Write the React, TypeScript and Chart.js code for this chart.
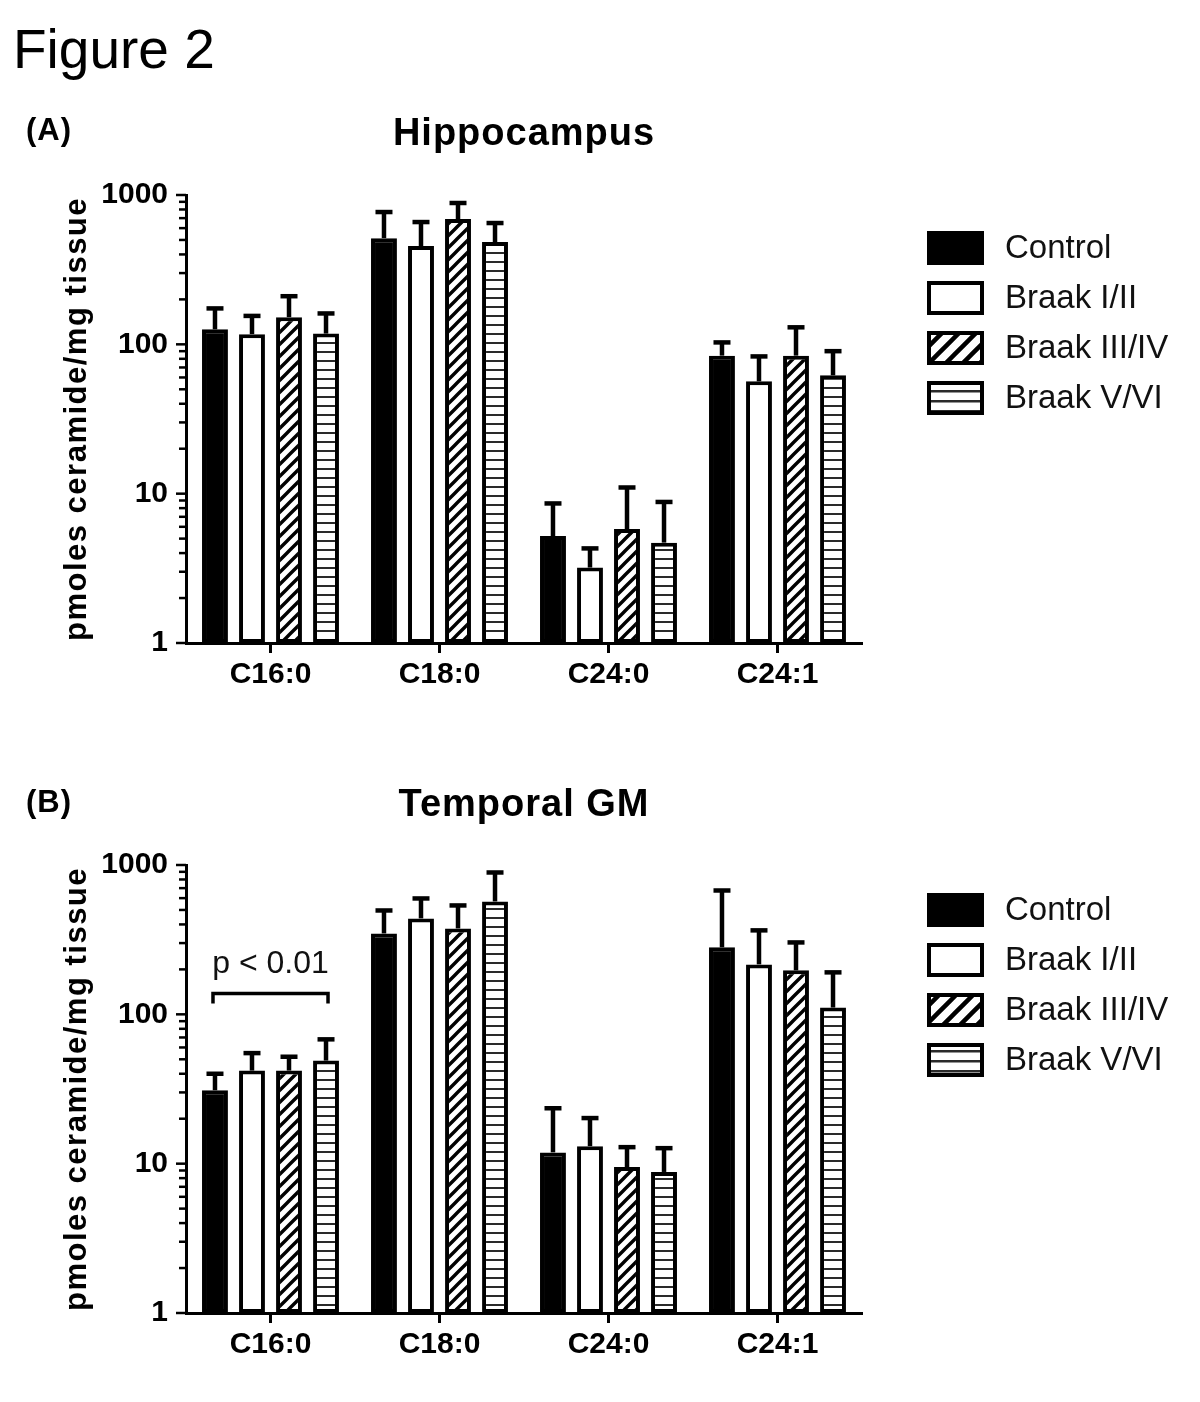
import React, { useEffect, useRef } from "react";
import { Chart, registerables } from "chart.js";

Chart.register(...registerables);

const FONT = "'Liberation Sans', Arial, Helvetica, sans-serif";

const categories = ["C16:0", "C18:0", "C24:0", "C24:1"];
const groups = ["Control", "Braak I/II", "Braak III/IV", "Braak V/VI"];
const yTickValues = [1, 10, 100, 1000];
const yMin = 1;
const yMax = 1000;

// (A) Hippocampus — means
const hipControl = [126, 514, 5.2, 84];
const hipBraak12 = [117, 455, 3.2, 56.5];
const hipBraak34 = [152, 690, 5.8, 84];
const hipBraak56 = [118, 484, 4.7, 62];
// (A) Hippocampus — top of error bars
const hipControlErr = [174, 769, 8.6, 103];
const hipBraak12Err = [155, 659, 4.3, 83];
const hipBraak34Err = [210, 884, 11, 130];
const hipBraak56Err = [161, 649, 8.8, 90];

// (B) Temporal GM — means
const tgmControl = [31, 348, 11.9, 281];
const tgmBraak12 = [42, 439, 13.1, 216];
const tgmBraak34 = [42, 376, 9.5, 197];
const tgmBraak56 = [49, 570, 8.8, 111];
// (B) Temporal GM — top of error bars
const tgmControlErr = [40, 496, 23.5, 675];
const tgmBraak12Err = [55, 597, 20.2, 365];
const tgmBraak34Err = [52, 536, 12.9, 303];
const tgmBraak56Err = [68, 891, 12.7, 191];

// significance bracket in (B)
const bracketLabel = "p < 0.01";
const bracketValue = 138;

type PanelCfg = {
  means: number[][];
  errs: number[][];
  figureTitle?: string;
  panelLabel: string;
  panelLabelY: number;
  title: string;
  titleY: number;
  legendY: number[];
  padTop: number;
  padBottom: number;
  bracket?: boolean;
};

function makeHatch(size: number, lw: number): CanvasPattern | string {
  const c = document.createElement("canvas");
  c.width = size;
  c.height = size;
  const g = c.getContext("2d");
  if (!g) return "#888";
  g.fillStyle = "#fff";
  g.fillRect(0, 0, size, size);
  g.strokeStyle = "#000";
  g.lineWidth = lw;
  g.lineCap = "square";
  g.beginPath();
  g.moveTo(0, size);
  g.lineTo(size, 0);
  g.moveTo(-size / 2, size / 2);
  g.lineTo(size / 2, -size / 2);
  g.moveTo(size / 2, size * 1.5);
  g.lineTo(size * 1.5, size / 2);
  g.stroke();
  const p = g.createPattern(c, "repeat");
  return p || "#888";
}

function makeHStripe(period: number, lw: number): CanvasPattern | string {
  const c = document.createElement("canvas");
  c.width = 8;
  c.height = period;
  const g = c.getContext("2d");
  if (!g) return "#ccc";
  g.fillStyle = "#fff";
  g.fillRect(0, 0, 8, period);
  g.fillStyle = "#2a2a2a";
  g.fillRect(0, 0, 8, lw);
  const p = g.createPattern(c, "repeat");
  return p || "#ccc";
}

function buildChart(canvas: HTMLCanvasElement, cfg: PanelCfg): Chart {
  const hatch = makeHatch(12, 3.4);
  const hstripe = makeHStripe(9, 2);
  const legendHatch = makeHatch(17, 4.5);
  const legendStripe = makeHStripe(10, 2.5);
  const fills: any[] = ["#000", "#fff", hatch, hstripe];
  const legendFills: any[] = ["#000", "#fff", legendHatch, legendStripe];

  const decor = {
    id: "panelDecor",
    afterDatasetsDraw(chart: any) {
      const ctx: CanvasRenderingContext2D = chart.ctx;
      const ys = chart.scales.y;
      cfg.errs.forEach((errs, i) => {
        const meta = chart.getDatasetMeta(i);
        meta.data.forEach((bar: any, j: number) => {
          const yTop = bar.y;
          const yE = ys.getPixelForValue(errs[j]);
          ctx.save();
          ctx.strokeStyle = "#000";
          ctx.lineWidth = 4.5;
          ctx.beginPath();
          ctx.moveTo(bar.x, yTop);
          ctx.lineTo(bar.x, yE);
          ctx.stroke();
          ctx.beginPath();
          ctx.moveTo(bar.x - 8.5, yE);
          ctx.lineTo(bar.x + 8.5, yE);
          ctx.stroke();
          ctx.restore();
        });
      });
    },
    afterDraw(chart: any) {
      const ctx: CanvasRenderingContext2D = chart.ctx;
      const ys = chart.scales.y;
      const area = chart.chartArea;
      const ax = area.left;
      ctx.save();
      // y axis tick marks (major + minor)
      ctx.strokeStyle = "#000";
      ctx.lineWidth = 2.5;
      for (let d = yMin; d < yMax; d *= 10) {
        for (let k = 1; k <= 9; k++) {
          const v = d * k;
          const py = ys.getPixelForValue(v);
          const len = k === 1 ? 10 : 7;
          ctx.beginPath();
          ctx.moveTo(ax - len, py);
          ctx.lineTo(ax, py);
          ctx.stroke();
        }
      }
      const pTop = ys.getPixelForValue(yMax);
      ctx.beginPath();
      ctx.moveTo(ax - 10, pTop);
      ctx.lineTo(ax, pTop);
      ctx.stroke();

      ctx.fillStyle = "#000";
      // figure title
      if (cfg.figureTitle) {
        ctx.font = `55px ${FONT}`;
        ctx.textAlign = "left";
        ctx.textBaseline = "alphabetic";
        ctx.fillText(cfg.figureTitle, 13, 68);
      }
      // panel label
      ctx.font = `bold 31px ${FONT}`;
      ctx.textAlign = "left";
      ctx.textBaseline = "alphabetic";
      (ctx as any).letterSpacing = "1px";
      ctx.fillText(cfg.panelLabel, 26, cfg.panelLabelY);
      // chart title
      ctx.font = `bold 38px ${FONT}`;
      ctx.textAlign = "center";
      (ctx as any).letterSpacing = "1px";
      ctx.fillText(cfg.title, (area.left + area.right) / 2, cfg.titleY);
      // y axis title
      ctx.save();
      ctx.translate(77, (area.top + area.bottom) / 2);
      ctx.rotate(-Math.PI / 2);
      ctx.font = `bold 31px ${FONT}`;
      (ctx as any).letterSpacing = "1.5px";
      ctx.textAlign = "center";
      ctx.textBaseline = "middle";
      ctx.fillText("pmoles ceramide/mg tissue", 0, 0);
      ctx.restore();
      (ctx as any).letterSpacing = "0px";

      // legend
      groups.forEach((name, i) => {
        const cy = cfg.legendY[i];
        const bx = 929;
        const bw = 53;
        const bh = 30;
        ctx.fillStyle = legendFills[i];
        ctx.fillRect(bx, cy - bh / 2, bw, bh);
        ctx.strokeStyle = "#000";
        ctx.lineWidth = 4;
        ctx.strokeRect(bx, cy - bh / 2, bw, bh);
        ctx.fillStyle = "#111";
        ctx.font = `33px ${FONT}`;
        ctx.textAlign = "left";
        ctx.textBaseline = "middle";
        ctx.fillText(name, 1005, cy + 1);
      });

      // significance bracket
      if (cfg.bracket) {
        const m0 = chart.getDatasetMeta(0).data[0];
        const m3 = chart.getDatasetMeta(3).data[0];
        const by = ys.getPixelForValue(bracketValue);
        const x0 = m0.x - 2;
        const x1 = m3.x + 2;
        ctx.strokeStyle = "#000";
        ctx.lineWidth = 3.5;
        ctx.beginPath();
        ctx.moveTo(x0, by + 10);
        ctx.lineTo(x0, by);
        ctx.lineTo(x1, by);
        ctx.lineTo(x1, by + 10);
        ctx.stroke();
        ctx.fillStyle = "#111";
        ctx.font = `32px ${FONT}`;
        ctx.textAlign = "center";
        ctx.textBaseline = "alphabetic";
        ctx.fillText(bracketLabel, (x0 + x1) / 2, by - 20);
      }
      ctx.restore();
    },
  };

  const datasets = cfg.means.map((m, i) => ({
    label: groups[i],
    data: m,
    backgroundColor: fills[i],
    borderColor: "#000",
    borderWidth: 4,
    borderSkipped: false as any,
    categoryPercentage: 0.876,
    barPercentage: 0.7,
  }));

  return new Chart(canvas, {
    type: "bar",
    data: { labels: categories, datasets },
    options: {
      responsive: false,
      animation: false,
      devicePixelRatio: 1,
      layout: { padding: { left: 0, right: 338, top: cfg.padTop, bottom: cfg.padBottom } },
      plugins: {
        legend: { display: false },
        tooltip: { enabled: false },
        title: { display: false },
      },
      scales: {
        x: {
          type: "category",
          grid: {
            display: true,
            drawOnChartArea: false,
            drawTicks: true,
            offset: false,
            tickLength: 10,
            tickWidth: 3,
            tickColor: "#000",
          },
          border: { display: true, color: "#000", width: 3 },
          ticks: {
            color: "#000",
            font: { family: FONT, size: 30, weight: "bold" },
            padding: 4,
            maxRotation: 0,
          },
          afterFit: (s: any) => {
            s.height = 57;
          },
        },
        y: {
          type: "logarithmic",
          min: yMin,
          max: yMax,
          grid: { display: false, drawTicks: false },
          border: { display: true, color: "#000", width: 3 },
          afterBuildTicks: (s: any) => {
            s.ticks = yTickValues.map((v) => ({ value: v }));
          },
          ticks: {
            color: "#000",
            font: { family: FONT, size: 30, weight: "bold" },
            padding: 18,
            autoSkip: false,
            callback: (v: any) => String(v),
          },
          afterFit: (s: any) => {
            s.width = 186;
          },
        },
      },
    },
    plugins: [decor as any],
  });
}

const panelA: PanelCfg = {
  means: [hipControl, hipBraak12, hipBraak34, hipBraak56],
  errs: [hipControlErr, hipBraak12Err, hipBraak34Err, hipBraak56Err],
  figureTitle: "Figure 2",
  panelLabel: "(A)",
  panelLabelY: 140,
  title: "Hippocampus",
  titleY: 145,
  legendY: [248, 298, 348, 398],
  padTop: 195,
  padBottom: 10,
};

const panelB: PanelCfg = {
  means: [tgmControl, tgmBraak12, tgmBraak34, tgmBraak56],
  errs: [tgmControlErr, tgmBraak12Err, tgmBraak34Err, tgmBraak56Err],
  panelLabel: "(B)",
  panelLabelY: 102,
  title: "Temporal GM",
  titleY: 106,
  legendY: [200, 250, 300, 350],
  padTop: 155,
  padBottom: 32,
  bracket: true,
};

export default function App() {
  const refA = useRef<HTMLCanvasElement | null>(null);
  const refB = useRef<HTMLCanvasElement | null>(null);

  useEffect(() => {
    document.body.style.margin = "0";
    document.body.style.background = "#fff";
    const charts: Chart[] = [];
    if (refA.current) charts.push(buildChart(refA.current, panelA));
    if (refB.current) charts.push(buildChart(refB.current, panelB));
    return () => {
      charts.forEach((c) => c.destroy());
    };
  }, []);

  return (
    <div style={{ position: "relative", width: 1200, height: 1402, background: "#fff", overflow: "hidden" }}>
      <canvas
        ref={refA}
        width={1200}
        height={710}
        style={{ position: "absolute", left: 0, top: 0, width: 1200, height: 710, display: "block" }}
      />
      <canvas
        ref={refB}
        width={1200}
        height={692}
        style={{ position: "absolute", left: 0, top: 710, width: 1200, height: 692, display: "block" }}
      />
    </div>
  );
}
